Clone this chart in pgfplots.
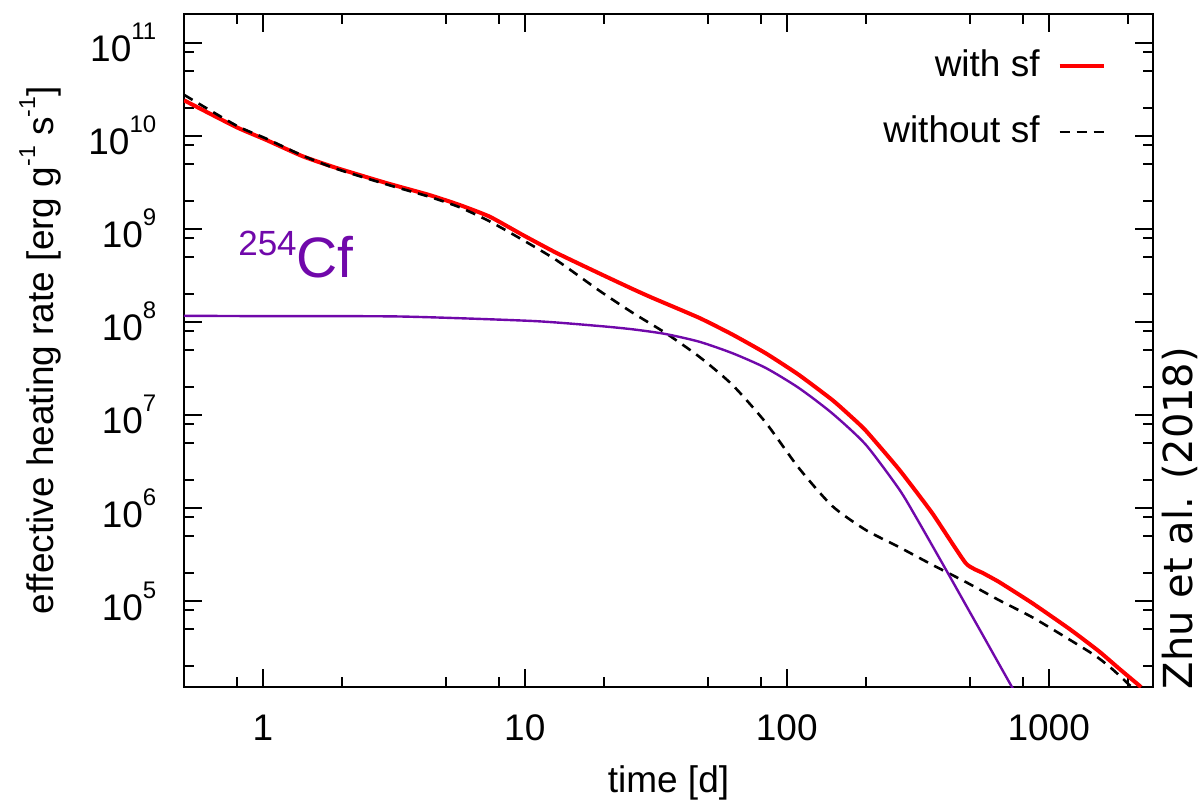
\documentclass[border=0pt]{standalone}
\usepackage{fontspec}
\setmainfont{Liberation Sans}
\newfontfamily\zhufont{DejaVu Sans}
\usepackage{pgfplots}
\pgfplotsset{compat=1.18}
\definecolor{cfpurple}{RGB}{112,8,170}
\definecolor{sfred}{RGB}{255,0,0}
\newcommand{\tsup}[1]{\raisebox{11pt}{\fontsize{12}{12}\selectfont #1}}
\newcommand{\lsup}[1]{\raisebox{9pt}{\fontsize{11.5}{12}\selectfont #1}}
\newcommand{\mainfs}{\fontsize{18.5}{22}\selectfont}
\begin{document}
\mainfs
\begin{tikzpicture}
\useasboundingbox (-92pt,-59pt) rectangle (508.5pt,343.5pt);
\begin{axis}[
  scale only axis, width=484.5pt, height=336.5pt,
  xmode=log, ymode=log, log basis x=10, log basis y=10,
  xmin=0.5, xmax=2500, ymin=1.19e4, ymax=2.03e11,
  axis line style={line width=1.2pt},
  tick align=inside,
  major tick length=9pt, minor tick length=5pt,
  every tick/.style={black, line width=1pt},
  xtick={1,10,100,1000}, xticklabels={1,10,100,1000},
  minor xtick={0.8,2,5,8,20,50,80,200,500,800,2000},
  ytick={1e5,1e6,1e7,1e8,1e9,1e10,1e11},
  minor ytick={2e4,5e4,8e4,2e5,5e5,8e5,2e6,5e6,8e6,2e7,5e7,8e7,2e8,5e8,8e8,2e9,5e9,8e9,2e10,5e10,8e10},
  yticklabel={10\tsup{\pgfmathparse{int(round(\tick))}\pgfmathresult}},
  every tick label/.append style={font=\mainfs},
  xticklabel style={yshift=-7.5pt},
  yticklabel style={xshift=-7.5pt},
  xlabel={time [d]},
  ylabel={effective heating rate [erg g\lsup{-1} s\lsup{-1}]},
  xlabel style={font=\mainfs, at={(axis description cs:0.5,-0.1426)}, anchor=center},
  ylabel style={font=\mainfs, at={(axis description cs:-0.1486,0.5)}, anchor=center, rotate=0},
  legend style={draw=none, fill=none, at={(axis description cs:0.9515,0.954)}, anchor=north east,
    inner sep=0pt, row sep=13pt, column sep=7pt, font=\mainfs},
  legend plot pos=right,
  legend cell align=right,
  legend image code/.code={\draw[#1] (0pt,0pt) -- (22pt,0pt);},
]
\addplot[sfred, line width=2pt, smooth, tension=0.3] coordinates {
(0.5,2.4e10) (0.79,1.24e10) (1.03,9.0e9) (1.42,6.0e9) (1.91,4.5e9) (2.96,3.1e9)
(4.33,2.3e9) (5.64,1.8e9) (7.34,1.35e9) (9.8,8.6e8) (13.2,5.5e8) (19.3,3.3e8)
(25.8,2.25e8) (30.8,1.8e8) (46.4,1.1e8) (62,7.3e7) (83,4.6e7) (111,2.7e7)
(149,1.45e7) (173,1.0e7) (200,6.8e6) (268,2.6e6) (359,8.8e5) (482,2.55e5)
(560,2.0e5) (646,1.6e5) (864,9.5e4) (1200,5.0e4) (1550,2.9e4) (1867,1.85e4) (2250,1.19e4)
};
\addlegendentry{with sf}
\addplot[black, line width=1.3pt, dash pattern=on 5pt off 3.5pt, smooth, tension=0.4] coordinates {
(0.5,2.75e10) (0.79,1.29e10) (1.03,9.3e9) (1.42,6.1e9) (1.91,4.4e9) (2.96,3.0e9)
(4.33,2.2e9) (5.64,1.7e9) (7.34,1.2e9) (9.8,7.6e8) (13.2,4.6e8) (19.3,2.15e8)
(25.8,1.25e8) (34.4,7.6e7) (46.4,4.2e7) (62,2.1e7) (83,8.3e6) (111,2.7e6)
(149,1.05e6) (200,5.8e5) (268,3.8e5) (359,2.45e5) (482,1.6e5) (646,1.02e5)
(864,6.7e4) (1156,4.1e4) (1500,2.6e4) (1750,1.85e4) (2070,1.19e4)
};
\addlegendentry{without sf}
\addplot[cfpurple, line width=1.2pt, smooth, tension=0.4, forget plot] coordinates {
(0.5,1.16e8) (1,1.15e8) (3.33,1.14e8) (10.7,1.02e8) (19.3,9.0e7) (25.8,8.3e7)
(34.4,7.4e7) (46.4,6.1e7) (62,4.6e7) (83,3.2e7) (111,1.95e7) (149,1.04e7)
(200,4.8e6) (268,1.6e6) (311,8.0e5) (404,2.2e5) (483,9.0e4) (555,4.5e4)
(640,2.2e4) (730,1.14e4)
};
\node[anchor=base west, inner sep=0pt, text=cfpurple, font=\fontsize{28.5}{30}\selectfont]
  at (axis cs:0.803,2.96e8) {\raisebox{11.4pt}{\fontsize{17.5}{18}\selectfont 254}Cf};
\end{axis}
\node[rotate=90, anchor=south, inner sep=0pt, font=\zhufont\fontsize{20}{24}\selectfont]
  at (507pt,84.5pt) {Zhu et al. (2018)};
\end{tikzpicture}
\end{document}
